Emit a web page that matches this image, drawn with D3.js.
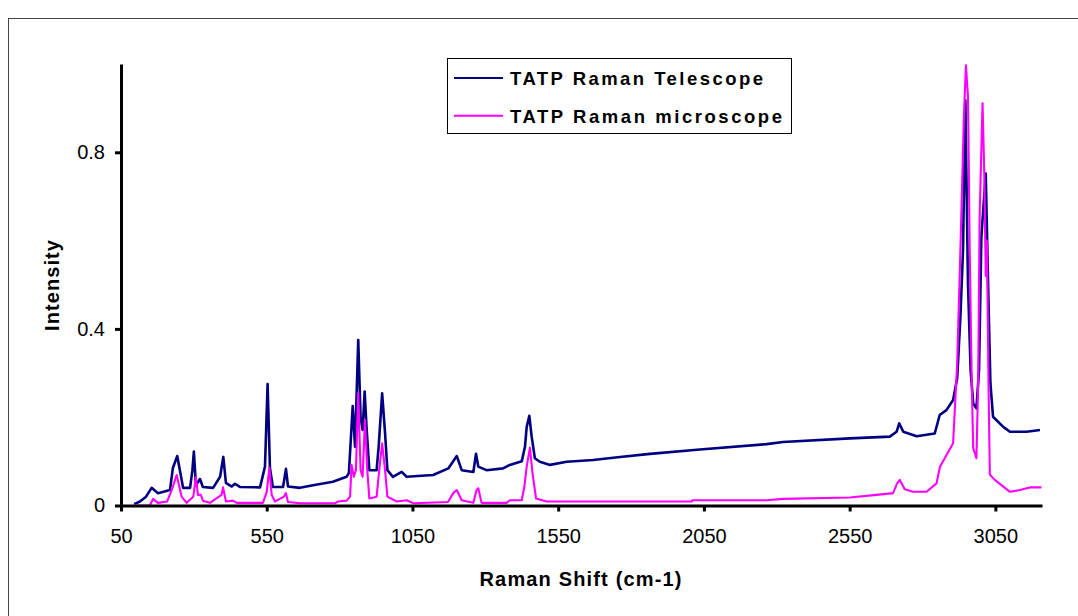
<!DOCTYPE html>
<html>
<head>
<meta charset="utf-8">
<script src="https://cdn.jsdelivr.net/npm/d3@7"></script>
<style>
  body { margin: 0; background: #ffffff; }
  svg text { font-family: 'Liberation Sans', Arial, sans-serif; }
</style>
</head>
<body>
<div id="my_dataviz"></div>
<script>
// spectra (Raman shift in cm-1, intensity 0..1)
const telescopeShift = [95, 115, 136, 155, 177, 218, 228, 243, 252, 263, 287, 295, 300, 307, 321, 331, 366, 390, 401, 410,
  430, 441, 458, 527, 544, 553, 561, 571, 606, 616, 623, 664, 709, 777, 824, 832, 845, 853, 864, 872,
  879, 886, 893, 902, 927, 934, 946, 956, 964, 983, 1013, 1030, 1121, 1173, 1202, 1219, 1259, 1268, 1276, 1304,
  1361, 1384, 1425, 1436, 1442, 1451, 1459, 1470, 1487, 1522, 1579, 1670, 1762, 1865, 2036, 2265, 2321, 2551, 2688, 2711,
  2720, 2734, 2780, 2842, 2859, 2882, 2905, 2919, 2930, 2939, 2947, 2956, 2965, 2974, 2985, 2994, 3002, 3017, 3025, 3033,
  3042, 3077, 3100, 3157, 3203];
const telescopeIntensity = [0.003, 0.009, 0.02, 0.04, 0.028, 0.035, 0.085, 0.112, 0.08, 0.04, 0.04, 0.08, 0.122, 0.046, 0.06, 0.042, 0.04, 0.065, 0.11, 0.051,
  0.043, 0.049, 0.042, 0.041, 0.088, 0.275, 0.085, 0.042, 0.042, 0.083, 0.043, 0.04, 0.046, 0.054, 0.065, 0.074, 0.225, 0.133, 0.375, 0.2,
  0.171, 0.258, 0.171, 0.08, 0.08, 0.133, 0.254, 0.164, 0.08, 0.065, 0.076, 0.065, 0.069, 0.084, 0.112, 0.08, 0.076, 0.117, 0.088, 0.08,
  0.084, 0.092, 0.1, 0.133, 0.178, 0.203, 0.156, 0.107, 0.099, 0.092, 0.099, 0.103, 0.11, 0.117, 0.127, 0.139, 0.144, 0.152, 0.156, 0.167,
  0.186, 0.167, 0.157, 0.163, 0.205, 0.216, 0.239, 0.288, 0.427, 0.578, 0.918, 0.504, 0.307, 0.231, 0.22, 0.307, 0.609, 0.752, 0.503, 0.277,
  0.201, 0.178, 0.167, 0.167, 0.171];

const microShift = [95, 149, 160, 177, 208, 224, 241, 258, 275, 298, 307, 314, 324, 331, 355, 395, 400, 410, 434, 447,
  537, 550, 559, 567, 578, 609, 616, 623, 664, 784, 794, 824, 836, 841, 849, 856, 864, 872, 879, 887,
  895, 902, 927, 936, 946, 956, 964, 996, 1030, 1053, 1172, 1190, 1202, 1219, 1259, 1270, 1276, 1287, 1373, 1384,
  1425, 1434, 1442, 1453, 1462, 1474, 1510, 1762, 1909, 2008, 2010, 2265, 2321, 2551, 2642, 2699, 2713, 2722, 2739, 2768,
  2814, 2848, 2860, 2882, 2905, 2919, 2930, 2942, 2949, 2956, 2962, 2969, 2974, 2985, 2991, 2996, 3006, 3012, 3017, 3021,
  3027, 3031, 3048, 3100, 3134, 3168, 3208];
const microIntensity = [0, 0, 0.015, 0.006, 0.009, 0.035, 0.069, 0.02, 0.006, 0.02, 0.064, 0.024, 0.024, 0.011, 0.006, 0.024, 0.041, 0.009, 0.011, 0.006,
  0.006, 0.031, 0.086, 0.024, 0.009, 0.02, 0.028, 0.008, 0.005, 0.005, 0.009, 0.011, 0.02, 0.092, 0.065, 0.08, 0.255, 0.08, 0.065, 0.194,
  0.08, 0.016, 0.02, 0.08, 0.141, 0.08, 0.02, 0.009, 0.012, 0.005, 0.008, 0.028, 0.035, 0.012, 0.006, 0.035, 0.039, 0.006, 0.006, 0.012,
  0.012, 0.043, 0.088, 0.131, 0.073, 0.016, 0.009, 0.009, 0.009, 0.009, 0.012, 0.012, 0.015, 0.018, 0.024, 0.028, 0.05, 0.058, 0.037, 0.031,
  0.031, 0.05, 0.088, 0.114, 0.141, 0.322, 0.578, 0.88, 0.997, 0.926, 0.578, 0.277, 0.13, 0.107, 0.277, 0.654, 0.911, 0.75, 0.52, 0.6,
  0.25, 0.07, 0.058, 0.031, 0.035, 0.041, 0.041];

const seriesNames = ['TATP Raman Telescope', 'TATP Raman microscope'];
const seriesColors = ['#000080', '#ff00ff'];
const xTicks = [50, 550, 1050, 1550, 2050, 2550, 3050];
const yTicks = [0, 0.4, 0.8];

// set the dimensions and margins of the graph
const W = 1078, H = 616;
const margin = { top: 64, right: 36, bottom: 110.5, left: 121 },
  width = W - margin.left - margin.right,
  height = H - margin.top - margin.bottom;

const root = d3
  .select('#my_dataviz')
  .append('svg')
  .attr('width', W)
  .attr('height', H);

// outer frame (runs off the right and bottom edges)
root
  .append('rect')
  .attr('x', 8.5)
  .attr('y', 18.5)
  .attr('width', 1200)
  .attr('height', 700)
  .attr('fill', 'none')
  .attr('stroke', '#444')
  .attr('stroke-width', 1);

const svg = root.append('g').attr('transform', `translate(${margin.left}, ${margin.top})`);

const x = d3.scaleLinear().domain([50, 3210]).range([0, width]);
const y = d3.scaleLinear().domain([0, 1]).range([height, 0]);

// lines
const series = [
  telescopeShift.map((s, i) => [s, telescopeIntensity[i]]),
  microShift.map((s, i) => [s, microIntensity[i]]),
];
const line = d3
  .line()
  .x(d => x(d[0]))
  .y(d => y(d[1]));

// microscope drawn over telescope like the original
series.forEach((pts, i) => {
  svg
    .append('path')
    .datum(pts)
    .attr('fill', 'none')
    .attr('stroke', seriesColors[i])
    .attr('stroke-width', i === 0 ? 2.6 : 2.1)
    .attr('stroke-linejoin', 'round')
    .attr('d', line);
});

// X axis
const xAxis = svg
  .append('g')
  .attr('transform', `translate(0, ${height})`)
  .call(d3.axisBottom(x).tickValues(xTicks).tickSize(6).tickSizeOuter(0).tickPadding(17).tickFormat(d3.format('d')));

// Y axis
const yAxis = svg
  .append('g')
  .call(d3.axisLeft(y).tickValues(yTicks).tickSize(6).tickSizeOuter(0).tickPadding(10).tickFormat(d => (d === 0 ? '0' : d)));

[xAxis, yAxis].forEach(a => {
  a.select('.domain').attr('stroke', '#000').attr('stroke-width', 3);
  a.selectAll('.tick line').attr('stroke', '#000').attr('stroke-width', 3);
  a.selectAll('.tick text')
    .attr('fill', '#000')
    .style('font-size', '20px')
    .style('font-family', "'Liberation Sans', Arial, sans-serif");
});

// axis titles
root
  .append('text')
  .attr('x', 580.5)
  .attr('y', 585.5)
  .attr('text-anchor', 'middle')
  .attr('textLength', 202)
  .attr('lengthAdjust', 'spacing')
  .style('font-size', '20px')
  .style('font-weight', 'bold')
  .text('Raman Shift (cm-1)');

root
  .append('text')
  .attr('transform', 'translate(59, 285.5) rotate(-90)')
  .attr('text-anchor', 'middle')
  .attr('textLength', 91)
  .attr('lengthAdjust', 'spacing')
  .style('font-size', '20px')
  .style('font-weight', 'bold')
  .text('Intensity');

// legend
const legend = root.append('g');
legend
  .append('rect')
  .attr('x', 447.5)
  .attr('y', 58.5)
  .attr('width', 344)
  .attr('height', 75)
  .attr('fill', '#fff')
  .attr('stroke', '#000')
  .attr('stroke-width', 1);

const legendLens = [253, 272];
seriesNames.forEach((name, i) => {
  const ly = 78 + i * 37.7;
  legend
    .append('line')
    .attr('x1', 454)
    .attr('x2', 503)
    .attr('y1', ly)
    .attr('y2', ly)
    .attr('stroke', seriesColors[i])
    .attr('stroke-width', 2);
  legend
    .append('text')
    .attr('x', 510)
    .attr('y', ly + 7)
    .attr('textLength', legendLens[i])
    .attr('lengthAdjust', 'spacing')
    .style('font-size', '18.5px')
    .style('font-weight', 'bold')
    .text(name);
});
</script>
</body>
</html>
